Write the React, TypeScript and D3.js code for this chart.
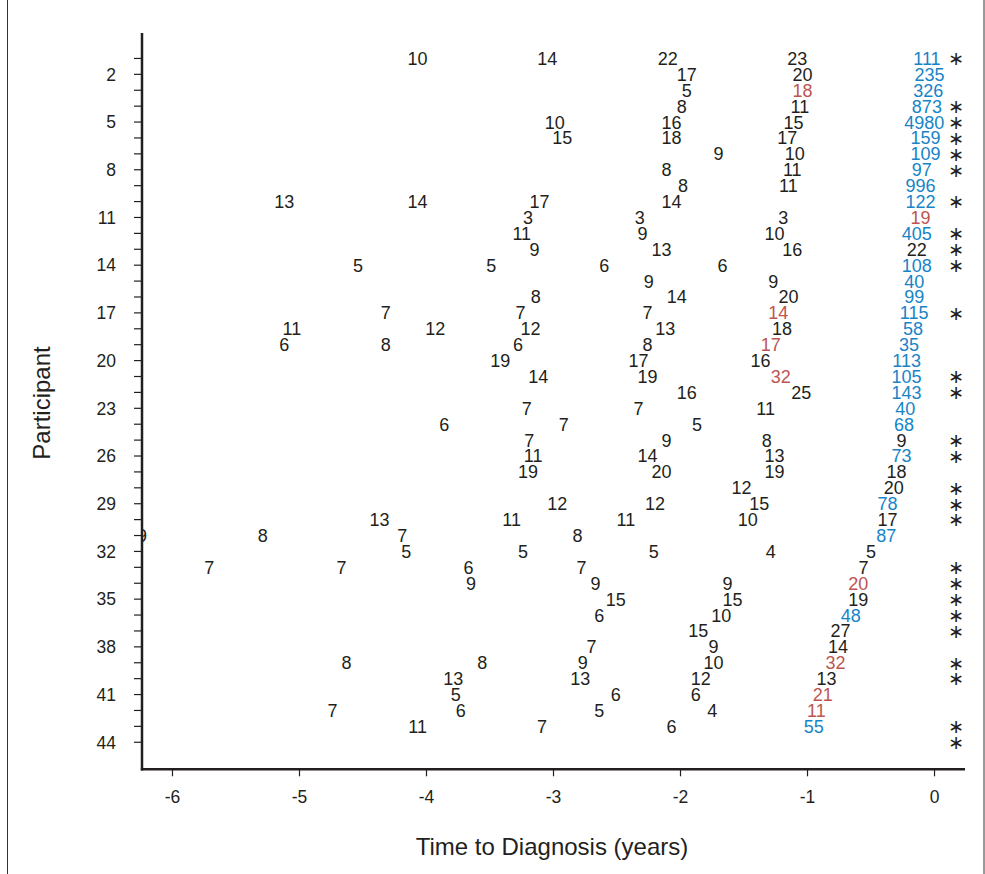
import React from "react";
import * as d3 from "d3";

const W = 985;
const H = 874;

// [participant, years before diagnosis, value]
const blackLabels: [number, number, number][] = [
  [1, -4.07, 10], [1, -3.05, 14], [1, -2.1, 22], [1, -1.08, 23],
  [2, -1.95, 17], [2, -1.04, 20],
  [3, -1.95, 5],
  [4, -1.99, 8], [4, -1.06, 11],
  [5, -2.99, 10], [5, -2.07, 16], [5, -1.11, 15],
  [6, -2.93, 15], [6, -2.07, 18], [6, -1.16, 17],
  [7, -1.7, 9], [7, -1.1, 10],
  [8, -2.11, 8], [8, -1.12, 11],
  [9, -1.98, 8], [9, -1.15, 11],
  [10, -5.12, 13], [10, -4.07, 14], [10, -3.11, 17], [10, -2.07, 14],
  [11, -3.2, 3], [11, -2.32, 3], [11, -1.19, 3],
  [12, -3.25, 11], [12, -2.3, 9], [12, -1.26, 10],
  [13, -3.15, 9], [13, -2.15, 13], [13, -1.12, 16], [13, -0.14, 22],
  [14, -4.54, 5], [14, -3.49, 5], [14, -2.6, 6], [14, -1.67, 6],
  [15, -2.25, 9], [15, -1.27, 9],
  [16, -3.14, 8], [16, -2.03, 14], [16, -1.15, 20],
  [17, -4.32, 7], [17, -3.26, 7], [17, -2.26, 7],
  [18, -5.06, 11], [18, -3.93, 12], [18, -3.18, 12], [18, -2.12, 13], [18, -1.2, 18],
  [19, -5.12, 6], [19, -4.32, 8], [19, -3.28, 6], [19, -2.26, 8],
  [20, -3.42, 19], [20, -2.33, 17], [20, -1.37, 16],
  [21, -3.12, 14], [21, -2.26, 19],
  [22, -1.95, 16], [22, -1.05, 25],
  [23, -3.21, 7], [23, -2.33, 7], [23, -1.33, 11],
  [24, -3.86, 6], [24, -2.92, 7], [24, -1.87, 5],
  [25, -3.19, 7], [25, -2.11, 9], [25, -1.32, 8], [25, -0.26, 9],
  [26, -3.16, 11], [26, -2.26, 14], [26, -1.26, 13],
  [27, -3.2, 19], [27, -2.15, 20], [27, -1.26, 19], [27, -0.3, 18],
  [28, -1.52, 12], [28, -0.32, 20],
  [29, -2.97, 12], [29, -2.2, 12], [29, -1.38, 15],
  [30, -4.37, 13], [30, -3.33, 11], [30, -2.43, 11], [30, -1.47, 10], [30, -0.37, 17],
  [31, -6.24, 9], [31, -5.29, 8], [31, -4.19, 7], [31, -2.81, 8],
  [32, -4.16, 5], [32, -3.24, 5], [32, -2.21, 5], [32, -1.29, 4], [32, -0.5, 5],
  [33, -5.71, 7], [33, -4.67, 7], [33, -3.67, 6], [33, -2.78, 7], [33, -0.56, 7],
  [34, -3.65, 9], [34, -2.67, 9], [34, -1.63, 9],
  [35, -2.51, 15], [35, -1.59, 15], [35, -0.6, 19],
  [36, -2.64, 6], [36, -1.68, 10],
  [37, -1.86, 15], [37, -0.74, 27],
  [38, -2.7, 7], [38, -1.74, 9], [38, -0.76, 14],
  [39, -4.63, 8], [39, -3.56, 8], [39, -2.77, 9], [39, -1.74, 10],
  [40, -3.79, 13], [40, -2.79, 13], [40, -1.84, 12], [40, -0.85, 13],
  [41, -3.77, 5], [41, -2.51, 6], [41, -1.88, 6],
  [42, -4.74, 7], [42, -3.73, 6], [42, -2.64, 5], [42, -1.75, 4],
  [43, -4.07, 11], [43, -3.09, 7], [43, -2.07, 6],
];

const blueLabels: [number, number, number][] = [
  [1, -0.06, 111], [2, -0.04, 235], [3, -0.05, 326], [4, -0.06, 873],
  [5, -0.08, 4980], [6, -0.07, 159], [7, -0.07, 109], [8, -0.1, 97],
  [9, -0.11, 996], [10, -0.11, 122], [12, -0.14, 405], [14, -0.14, 108],
  [15, -0.16, 40], [16, -0.16, 99], [17, -0.16, 115], [18, -0.17, 58],
  [19, -0.2, 35], [20, -0.22, 113], [21, -0.22, 105], [22, -0.22, 143],
  [23, -0.23, 40], [24, -0.24, 68], [26, -0.26, 73], [29, -0.37, 78],
  [31, -0.38, 87], [36, -0.66, 48], [43, -0.95, 55],
];

const redLabels: [number, number, number][] = [
  [3, -1.04, 18], [11, -0.11, 19], [17, -1.23, 14], [19, -1.29, 17],
  [21, -1.21, 32], [34, -0.6, 20], [39, -0.78, 32], [41, -0.88, 21],
  [42, -0.93, 11],
];

const asteriskParticipants = [
  1, 4, 5, 6, 7, 8, 10, 12, 13, 14, 17, 21, 22, 25, 26, 28, 29, 30, 33, 34,
  35, 36, 37, 39, 40, 43, 44,
];
const asteriskTime = 0.17;

const xTicks = [-6, -5, -4, -3, -2, -1, 0];
const yTickLabels = [2, 5, 8, 11, 14, 17, 20, 23, 26, 29, 32, 35, 38, 41, 44];
const participantCount = 44;

const BLACK = "#231f20";
const BLUE = "#1784c7";
const RED = "#bd5550";
const FONT = "'Liberation Sans', Arial, Helvetica, sans-serif";

export default function App() {
  const x = d3.scaleLinear().domain([-6.24, 0.24]).range([142, 965]);
  const y = d3.scaleLinear().domain([-0.6, 45.7]).range([33, 769.3]);
  const left = x.range()[0];
  const bottom = y.range()[1];
  const top = y.range()[0];
  const allTicks = d3.range(1, participantCount + 1);

  const groups: { data: [number, number, number][]; color: string }[] = [
    { data: blackLabels, color: BLACK },
    { data: blueLabels, color: BLUE },
    { data: redLabels, color: RED },
  ];

  return (
    <svg
      width={W}
      height={H}
      style={{ position: "absolute", left: 0, top: 0, background: "#fff" }}
      fontFamily={FONT}
    >
      <rect x={0} y={0} width={W} height={H} fill="#fff" />
      <rect x={7.5} y={-1} width={W - 8.5} height={H + 2} fill="none" stroke="#333" strokeWidth={1} />
      <defs>
        <clipPath id="plotClip">
          <rect x={left + 1} y={0} width={W - left} height={bottom} />
        </clipPath>
      </defs>

      <g clipPath="url(#plotClip)">
        {groups.map((g, gi) =>
          g.data.map(([p, t, v], i) => (
            <text
              key={`${gi}-${i}`}
              x={x(t)}
              y={y(p)}
              dy="0.36em"
              textAnchor="middle"
              fontSize={18}
              fill={g.color}
            >
              {v}
            </text>
          ))
        )}
        {asteriskParticipants.map((p) => (
          <text
            key={`a${p}`}
            x={x(asteriskTime)}
            y={y(p)}
            dy="0.36em"
            textAnchor="middle"
            fontSize={19}
            fill={BLACK}
            fontFamily="'DejaVu Sans', sans-serif"
          >
            ∗
          </text>
        ))}
      </g>

      {/* Y axis */}
      <line x1={left} x2={left} y1={top} y2={bottom + 1.2} stroke={BLACK} strokeWidth={2.5} />
      {allTicks.map((p) => (
        <line key={`yt${p}`} x1={left - 8} x2={left} y1={y(p)} y2={y(p)} stroke={BLACK} strokeWidth={1.2} />
      ))}
      {yTickLabels.map((p) => (
        <text key={`yl${p}`} x={116} y={y(p)} dy="0.36em" textAnchor="end" fontSize={17.5} fill={BLACK}>
          {p}
        </text>
      ))}

      {/* X axis */}
      <line x1={left - 1.2} x2={x.range()[1]} y1={bottom} y2={bottom} stroke={BLACK} strokeWidth={2.5} />
      {xTicks.map((t) => (
        <line key={`xt${t}`} x1={x(t)} x2={x(t)} y1={bottom} y2={bottom + 7} stroke={BLACK} strokeWidth={1.2} />
      ))}
      {xTicks.map((t) => (
        <text key={`xl${t}`} x={x(t)} y={bottom + 27} dy="0.36em" textAnchor="middle" fontSize={17.5} fill={BLACK}>
          {String(t)}
        </text>
      ))}

      {/* Axis titles */}
      <text x={552} y={855} textAnchor="middle" fontSize={24} fill={BLACK}>
        Time to Diagnosis (years)
      </text>
      <text
        transform={`translate(50, 403) rotate(-90)`}
        textAnchor="middle"
        fontSize={24}
        fill={BLACK}
      >
        Participant
      </text>
    </svg>
  );
}
